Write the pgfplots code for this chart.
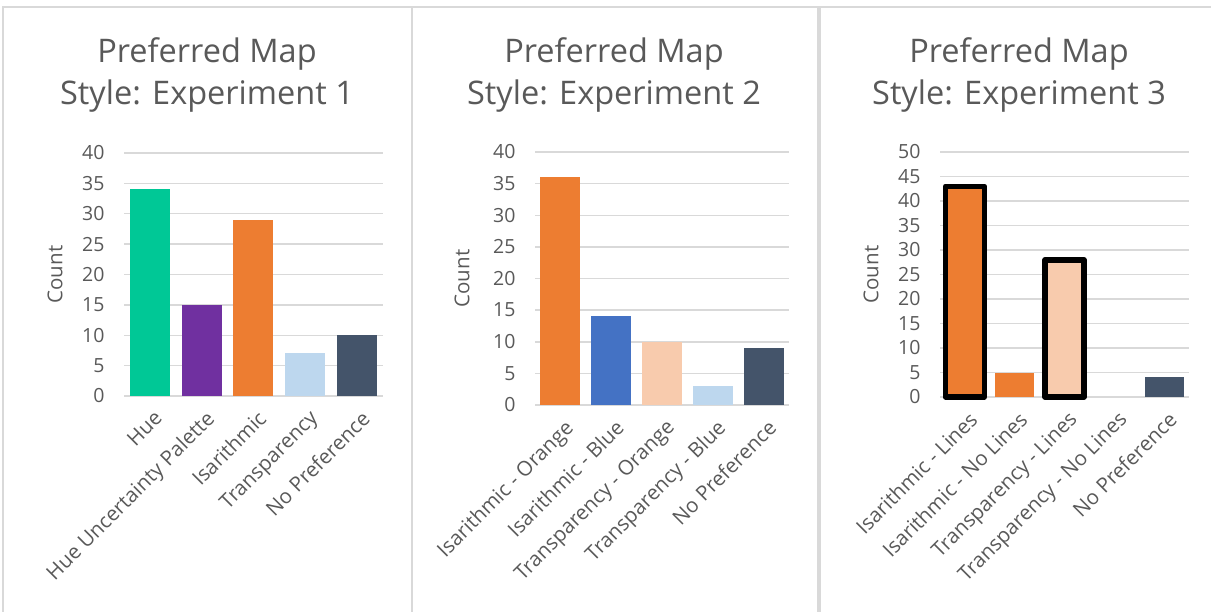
\documentclass[border=0pt]{standalone}
\usepackage{pgfplots}
\pgfplotsset{compat=1.18}
\usepackage{fontspec}
\setmainfont{Open Sans}
\definecolor{txtgray}{HTML}{595959}
\definecolor{gridgray}{HTML}{D9D9D9}
\definecolor{cgreen}{HTML}{00C896}
\definecolor{cpurple}{HTML}{7030A0}
\definecolor{corange}{HTML}{ED7D31}
\definecolor{clblue}{HTML}{BDD7EE}
\definecolor{cslate}{HTML}{44546A}
\definecolor{cblue}{HTML}{4472C4}
\definecolor{cpeach}{HTML}{F8CBAD}
\pgfplotsset{
  panel/.style={
    scale only axis,
    anchor=south west,
    xmin=-0.5, xmax=4.5,
    ymin=0,
    xtick={0,1,2,3,4},
    ytick distance=5,
    major tick length=0pt,
    axis line style={draw=none},
    ymajorgrids,
    grid style={gridgray, line width=1.5pt},
    /pgf/number format/assume math mode=true,
    tick label style={text=txtgray},
    yticklabel style={font=\fontsize{19.5}{21}\selectfont, anchor=east},
    yticklabel shift=16pt,
    xticklabel style={font=\fontsize{20.5}{22}\selectfont, xshift=3pt, yshift=-13pt, rotate=45, anchor=north east, inner sep=0pt},
    ylabel={Count},
    ylabel style={font=\fontsize{20.5}{22}\selectfont, text=txtgray, anchor=center},
    clip=false,
  },
  bar/.style={ybar, bar shift=0pt, draw=none, fill=#1},
}
\begin{document}
\begin{tikzpicture}[x=1pt,y=1pt]
\useasboundingbox (0,0) rectangle (1211,611);
% panel borders
\draw[gridgray, line width=1.5pt] (3,-10) -- (3,604) -- (1215,604);
\draw[gridgray, line width=1.5pt] (412,-10) -- (412,604);
\draw[gridgray, line width=4pt] (818.5,-10) -- (818.5,604);
% titles
\begin{scope}[every node/.style={anchor=base, text=txtgray, font=\fontsize{32.5}{36}\selectfont}]
\node at (207,548) {Preferred Map};
\node at (207,506) {Style: Experiment 1};
\node at (614,548) {Preferred Map};
\node at (614,506) {Style: Experiment 2};
\node at (1019,548) {Preferred Map};
\node at (1019,506) {Style: Experiment 3};
\end{scope}
% Experiment 1
\begin{axis}[panel, at={(124pt,215pt)}, width=259pt, height=243pt, ymax=40,
  xticklabels={Hue,Hue Uncertainty Palette,Isarithmic,Transparency,No Preference},
  ylabel style={at={(axis description cs:-0.266,0.5)}}]
\addplot[bar=cgreen, bar width=40pt] coordinates {(0,34)};
\addplot[bar=cpurple, bar width=40pt] coordinates {(1,15)};
\addplot[bar=corange, bar width=40pt] coordinates {(2,29)};
\addplot[bar=clblue, bar width=40pt] coordinates {(3,7)};
\addplot[bar=cslate, bar width=40pt] coordinates {(4,10)};
\end{axis}
% Experiment 2
\begin{axis}[panel, at={(535pt,206pt)}, width=254pt, height=253pt, ymax=40,
  xticklabels={Isarithmic - Orange,Isarithmic - Blue,Transparency - Orange,Transparency - Blue,No Preference},
  ylabel style={at={(axis description cs:-0.287,0.5)}}]
\addplot[bar=corange, bar width=40pt] coordinates {(0,36)};
\addplot[bar=cblue, bar width=40pt] coordinates {(1,14)};
\addplot[bar=cpeach, bar width=40pt] coordinates {(2,10)};
\addplot[bar=clblue, bar width=40pt] coordinates {(3,3)};
\addplot[bar=cslate, bar width=40pt] coordinates {(4,9)};
\end{axis}
% Experiment 3
\begin{axis}[panel, at={(940pt,214pt)}, width=249pt, height=245pt, ymax=50,
  xticklabels={Isarithmic - Lines,Isarithmic - No Lines,Transparency - Lines,Transparency - No Lines,No Preference},
  ylabel style={at={(axis description cs:-0.277,0.5)}}]
\addplot[bar=corange, bar width=39pt, draw=black, line width=5.5pt, line join=round] coordinates {(0,43)};
\addplot[bar=corange, bar width=39pt] coordinates {(1,5)};
\addplot[bar=cpeach, bar width=39pt, draw=black, line width=5.5pt, line join=round] coordinates {(2,28)};
\addplot[bar=cslate, bar width=39pt] coordinates {(4,4)};
\end{axis}
\end{tikzpicture}
\end{document}
